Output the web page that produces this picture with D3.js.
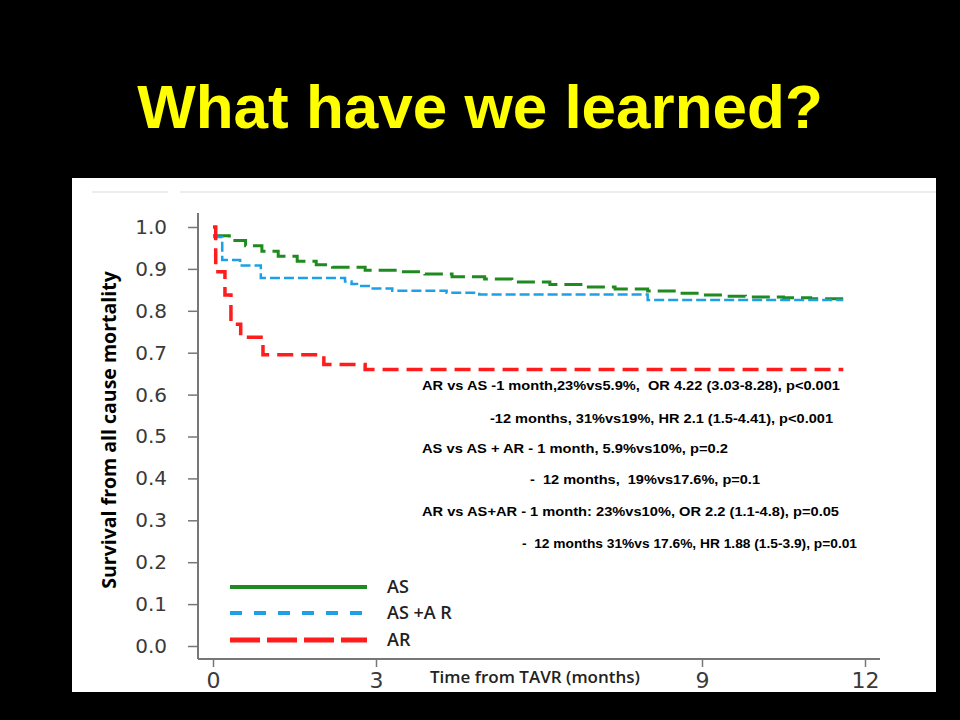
<!DOCTYPE html>
<html>
<head>
<meta charset="utf-8">
<script src="https://cdn.jsdelivr.net/npm/d3@7"></script>
<style>
  html, body { margin: 0; padding: 0; background: #000; }
  svg { display: block; }
</style>
</head>
<body>
<div id="chart"></div>
<script>
(function(d3){

    // survival curves, [months, survival]
    var asTime  = [0, 0.3, 0.6, 0.9, 1.2, 1.55, 1.9, 2.2, 2.8, 3.4, 3.9, 4.4, 5.0, 5.5, 6.2, 6.8, 7.4, 8.0, 8.6, 9.0, 9.4, 9.8, 10.5, 11.0, 11.6];
    var asSurv  = [0.979, 0.968, 0.955, 0.942, 0.93, 0.918, 0.91, 0.904, 0.897, 0.893, 0.888, 0.881, 0.876, 0.869, 0.863, 0.857, 0.852, 0.847, 0.842, 0.838, 0.835, 0.833, 0.831, 0.829, 0.826];
    var asarTime = [0, 0.17, 0.5, 0.88, 2.43, 2.55, 2.65, 2.9, 3.3, 4.3, 4.9, 8.0, 11.6];
    var asarSurv = [0.976, 0.921, 0.908, 0.878, 0.87, 0.864, 0.859, 0.853, 0.848, 0.843, 0.839, 0.826, 0.826];
    var arTime  = [0, 0.05, 0.22, 0.33, 0.51, 0.92, 2.04, 2.8, 11.6];
    var arSurv  = [1.0, 0.893, 0.838, 0.768, 0.737, 0.695, 0.672, 0.66, 0.66];

    var yTicks = [0, 0.1, 0.2, 0.3, 0.4, 0.5, 0.6, 0.7, 0.8, 0.9, 1.0];
    var xTicks = [0, 3, 9, 12];
    var legendNames = ["AS", "AS +A R", "AR"];

    var notes = [
        "AR vs AS -1 month,23%vs5.9%,  OR 4.22 (3.03-8.28), p<0.001",
        "-12 months, 31%vs19%, HR 2.1 (1.5-4.41), p<0.001",
        "AS vs AS + AR - 1 month, 5.9%vs10%, p=0.2",
        "-  12 months,  19%vs17.6%, p=0.1",
        "AR vs AS+AR - 1 month: 23%vs10%, OR 2.2 (1.1-4.8), p=0.05",
        "-  12 months 31%vs 17.6%, HR 1.88 (1.5-3.9), p=0.01"
    ];
    // placement of the note lines on the slide
    var noteX = [422, 490, 422, 530, 422, 522];
    var noteY = [390, 423, 453, 484, 516, 548];
    var noteW = [418, 343, 306, 230, 417, 335];

    var series = [
        {name: legendNames[0], t: asTime, s: asSurv, color: "#1f8a1f", width: 3, dash: "18,7", legDash: null, legWidth: 4},
        {name: legendNames[1], t: asarTime, s: asarSurv, color: "#1ea0e6", width: 2.5, dash: "10,4", legDash: "12,12", legWidth: 4},
        {name: legendNames[2], t: arTime, s: arSurv, color: "#ff1c1c", width: 3.5, dash: "16,8", legDash: "30,7", legWidth: 5}
    ];

    var W = 960, H = 720;
    var svg = d3.select("#chart").append("svg")
            .attr("width", W)
            .attr("height", H);

    svg.append("rect").attr("width", W).attr("height", H).attr("fill", "#000");

    // title
    svg.append("text")
            .attr("x", 480)
            .attr("y", 128)
            .attr("text-anchor", "middle")
            .style("font-family", "'Liberation Sans', Arial, sans-serif")
            .style("font-weight", "bold")
            .style("font-size", "62px")
            .style("fill", "#ffff00")
            .text("What have we learned?");

    // white panel
    svg.append("rect")
            .attr("x", 72).attr("y", 178)
            .attr("width", 864).attr("height", 514)
            .attr("fill", "#fff");
    svg.append("line")
            .attr("x1", 92).attr("x2", 168).attr("y1", 192).attr("y2", 192)
            .attr("stroke", "#eee").attr("stroke-width", 2);
    svg.append("line")
            .attr("x1", 180).attr("x2", 936).attr("y1", 192).attr("y2", 192)
            .attr("stroke", "#eee").attr("stroke-width", 2);

    var x = d3.scaleLinear().domain([0, 12]).range([213, 865]);
    var y = d3.scaleLinear().domain([0, 1]).range([646, 227]);

    // y axis
    var yAxis = svg.append("g")
            .attr("transform", "translate(198,0)")
            .call(d3.axisLeft(y).tickValues(yTicks).tickFormat(d3.format(".1f")).tickSize(10).tickPadding(21));
    yAxis.select(".domain").remove();
    yAxis.selectAll(".tick line").attr("stroke", "#777").attr("stroke-width", 1.5);
    yAxis.selectAll(".tick text")
            .style("font-family", "'DejaVu Sans', sans-serif")
            .style("font-size", "20px")
            .style("fill", "#3a3a3a");
    svg.append("line")
            .attr("x1", 198).attr("x2", 198).attr("y1", 213).attr("y2", 659)
            .attr("stroke", "#777").attr("stroke-width", 2);

    // x axis
    var xAxis = svg.append("g")
            .attr("transform", "translate(0,659)")
            .call(d3.axisBottom(x).tickValues(xTicks).tickFormat(d3.format("d")).tickSize(8).tickPadding(5));
    xAxis.select(".domain").remove();
    xAxis.selectAll(".tick line").attr("stroke", "#777").attr("stroke-width", 1.5);
    xAxis.selectAll(".tick text")
            .style("font-family", "'DejaVu Sans', sans-serif")
            .style("font-size", "22px")
            .style("fill", "#3a3a3a");
    svg.append("line")
            .attr("x1", 198).attr("x2", 880).attr("y1", 659).attr("y2", 659)
            .attr("stroke", "#777").attr("stroke-width", 2);

    svg.append("text")
            .attr("x", 535)
            .attr("y", 683)
            .attr("text-anchor", "middle")
            .style("font-family", "'Open Sans', sans-serif")
            .style("font-weight", "600")
            .style("font-size", "17px")
            .style("fill", "#222")
            .text("Time from TAVR (months)");

    // y title
    svg.append("text")
            .attr("transform", "translate(116,430) rotate(-90)")
            .attr("text-anchor", "middle")
            .style("font-family", "'Open Sans', sans-serif")
            .style("font-weight", "bold")
            .style("font-size", "19.5px")
            .style("fill", "#000")
            .text("Survival from all cause mortality");

    // curves
    var line = d3.line()
            .x(function(d){ return x(d[0]); })
            .y(function(d){ return y(d[1]); })
            .curve(d3.curveStepAfter);

    series.forEach(function(s){
        var pts = s.t.map(function(t, i){ return [t, s.s[i]]; });
        svg.append("path")
                .datum(pts)
                .attr("d", line)
                .attr("fill", "none")
                .attr("stroke", s.color)
                .attr("stroke-width", s.width)
                .attr("stroke-dasharray", s.dash);
    });

    // legend
    var legY = [587, 613, 640];
    series.forEach(function(s, i){
        svg.append("line")
                .attr("x1", 230).attr("x2", 367)
                .attr("y1", legY[i]).attr("y2", legY[i])
                .attr("stroke", s.color)
                .attr("stroke-width", s.legWidth)
                .attr("stroke-dasharray", s.legDash);
        svg.append("text")
                .attr("x", 387)
                .attr("y", legY[i] + 6)
                .style("font-family", "'Open Sans', sans-serif")
                .style("font-weight", "600")
                .style("font-size", "18px")
                .style("fill", "#222")
                .text(s.name);
    });

    // annotations
    svg.selectAll("text.note")
            .data(notes)
            .enter().append("text")
            .attr("class", "note")
            .attr("x", function(d, i){ return noteX[i]; })
            .attr("y", function(d, i){ return noteY[i]; })
            .attr("textLength", function(d, i){ return noteW[i]; })
            .attr("lengthAdjust", "spacingAndGlyphs")
            .style("font-family", "'Liberation Sans', Arial, sans-serif")
            .style("font-weight", "bold")
            .style("font-size", "13.5px")
            .style("fill", "#000")
            .style("white-space", "pre")
            .text(function(d){ return d; });

})(d3);
</script>
</body>
</html>
